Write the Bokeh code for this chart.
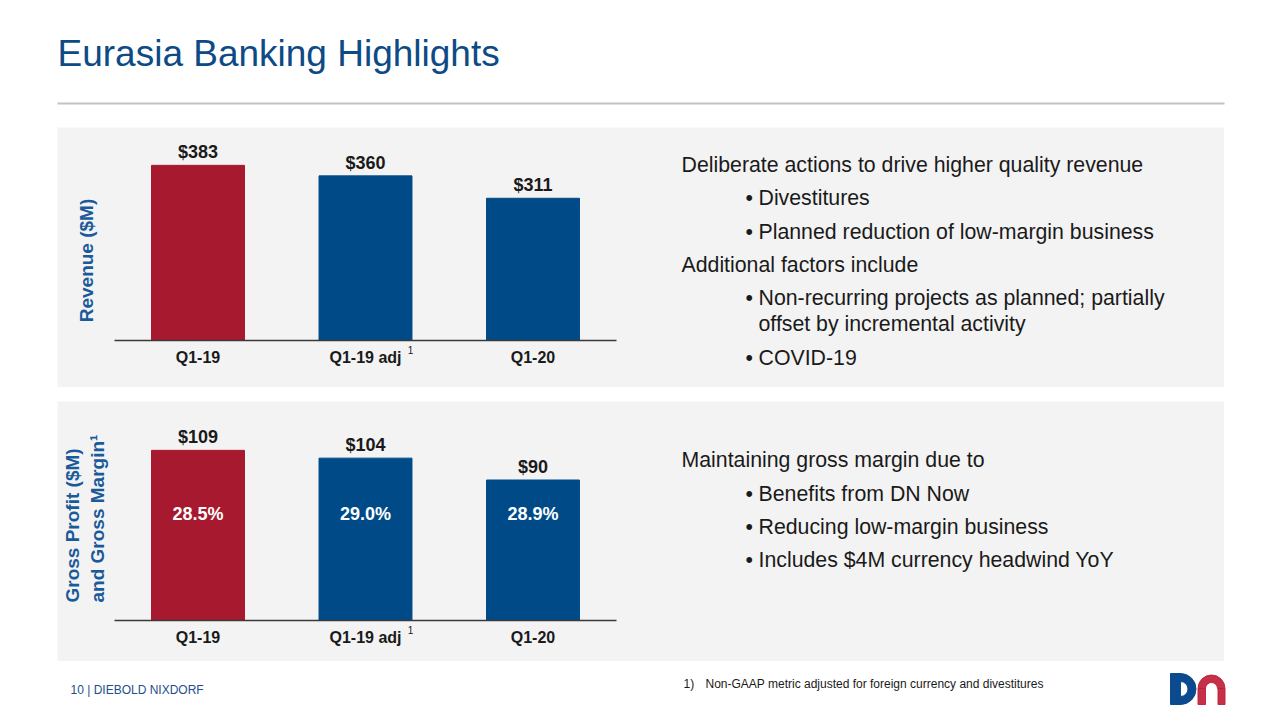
import math
from bokeh.plotting import figure
from bokeh.models import ColumnDataSource, Range1d, FixedTicker, Spacer
from bokeh.layouts import column, row
from bokeh.core.properties import value
from bokeh.embed import file_html
from bokeh.resources import INLINE

# ---------------- data ----------------
categories = ["Q1-19", "Q1-19 adj", "Q1-20"]
revenue = [383, 360, 311]
gross_profit = [109, 104, 90]
gross_margin = [28.5, 29.0, 28.9]

title_text = "Eurasia Banking Highlights"
rev_axis_label = ["Revenue ($M)"]
gp_axis_label = ["Gross Profit ($M)", "and Gross Margin\u00b9"]

panel1_heads = ["Deliberate actions to drive higher quality revenue", "Additional factors include"]
panel1_bullets = ["Divestitures", "Planned reduction of low-margin business",
                  "Non-recurring projects as planned; partially", "COVID-19"]
panel1_cont = ["offset by incremental activity"]
panel2_heads = ["Maintaining gross margin due to"]
panel2_bullets = ["Benefits from DN Now", "Reducing low-margin business",
                  "Includes $4M currency headwind YoY"]
footer_text = "10  |  DIEBOLD NIXDORF"
footnote_num = "1)"
footnote_text = "Non-GAAP metric adjusted for foreign currency and divestitures"

# ---------------- styles / layout ----------------
FONT = "Liberation Sans"
BLUE = "#004b87"
RED = "#a6192e"
TITLE_BLUE = "#0d4a86"
LABEL_BLUE = "#1a5a9a"
PANEL = "#f3f3f3"
TXT = "#1a1a1a"
BODY_SIZE = "21.3px"
bar_colors = [RED, BLUE, BLUE]

W = 1272
PW = 1167            # grey panel width
PH = 260             # grey panel height
CAT0 = 140.5         # px of first category centre inside the panel
STEP = 167.5         # px between categories
idx = list(range(len(categories)))


def blank_fig(w, h, bg, yrev=True):
    p = figure(width=w, height=h, x_range=Range1d(0, w),
               y_range=Range1d(h, 0) if yrev else Range1d(0, h),
               output_backend="svg", toolbar_location=None,
               x_axis_location=None, y_axis_location=None,
               min_border=0, background_fill_color=bg, border_fill_color=bg,
               outline_line_color=None)
    p.xgrid.visible = False
    p.ygrid.visible = False
    return p


def ptext(p, xs, ys, texts, size=BODY_SIZE, style="normal", color=TXT, align="left",
          baseline="middle", angle=0.0):
    p.text(x=xs, y=ys, text=texts, x_range_name="px", y_range_name="py",
           text_font=value(FONT), text_font_size=size, text_font_style=style,
           text_color=color, text_align=align, text_baseline=baseline, angle=angle)


def panel_fig(vals, base_px, ppu):
    x0 = -CAT0 / STEP
    p = figure(width=PW, height=PH, x_range=Range1d(x0, x0 + PW / STEP),
               y_range=Range1d(-(PH - base_px) / ppu, base_px / ppu),
               output_backend="svg", toolbar_location=None, y_axis_location=None,
               min_border=0, background_fill_color=PANEL,
               border_fill_color=PANEL, outline_line_color=None)
    p.xgrid.visible = False
    p.ygrid.visible = False
    # pixel coordinates inside the panel, for the free text
    p.extra_x_ranges = {"px": Range1d(0, PW)}
    p.extra_y_ranges = {"py": Range1d(PH, 0)}
    gap = 13.3 / ppu
    src = ColumnDataSource(dict(x=idx, v=vals, ly=[v + gap for v in vals],
                                lbl=["$%d" % v for v in vals], color=bar_colors))
    p.vbar(x="x", top="v", width=0.555, color="color", source=src)
    p.text(x="x", y="ly", text="lbl", source=src, text_align="center",
           text_baseline="middle", text_font=value(FONT),
           text_font_size="18px", text_font_style="bold", text_color=TXT)
    xa = p.xaxis[0]
    xa.fixed_location = 0
    xa.bounds = (-0.5, len(categories) - 0.5)
    xa.ticker = FixedTicker(ticks=idx)
    xa.major_label_overrides = {i: c for i, c in zip(idx, categories)}
    xa.major_tick_line_color = None
    xa.minor_tick_line_color = None
    xa.major_tick_out = 0
    xa.major_tick_in = 0
    xa.axis_line_color = "#3a3a3a"
    xa.axis_line_width = 1.5
    xa.major_label_standoff = 8
    xa.major_label_text_font = FONT
    xa.major_label_text_font_size = "16px"
    xa.major_label_text_font_style = "bold"
    xa.major_label_text_color = TXT
    # footnote marker next to "Q1-19 adj"
    ptext(p, [353], [base_px + 9], ["1"], size="10px", align="center")
    return p, src


# ---------------- header ----------------
hdr = blank_fig(W, 127, "white")
hdr.text(x=[57], y=[52.5], text=[title_text], text_font=value(FONT), text_font_size="37px",
         text_color=TITLE_BLUE, text_baseline="middle", text_align="left")
hdr.segment(x0=[57], y0=[103], x1=[1224], y1=[103], line_color="#c3c3c3", line_width=2)

# ---------------- revenue panel ----------------
p1, _ = panel_fig(revenue, 213, 0.4573)
ptext(p1, [29], [133], rev_axis_label, size="19px", style="bold", color=LABEL_BLUE,
      align="center", angle=math.pi / 2)
ptext(p1, [624] * 2, [37, 137], panel1_heads)
ptext(p1, [688] * 4, [70, 104, 170, 230], ["\u2022"] * 4)
ptext(p1, [701] * 4, [70, 104, 170, 230], panel1_bullets)
ptext(p1, [701], [196], panel1_cont)

# ---------------- gross profit panel ----------------
p2, src2 = panel_fig(gross_profit, 219, 1.561)
src2.data["pct"] = ["%.1f%%" % m for m in gross_margin]
src2.data["py"] = [112] * len(categories)
p2.text(x="x", y="py", y_range_name="py", text="pct", source=src2, text_align="center",
        text_baseline="middle", text_font=value(FONT), text_font_size="18px",
        text_font_style="bold", text_color="white")
ptext(p2, [15, 40], [201, 201], gp_axis_label, size="19px", style="bold", color=LABEL_BLUE,
      align="left", angle=math.pi / 2)
ptext(p2, [624], [58], panel2_heads)
ptext(p2, [688] * 3, [92, 125, 158], ["\u2022"] * 3)
ptext(p2, [701] * 3, [92, 125, 158], panel2_bullets)

# ---------------- footer ----------------
ftr = blank_fig(W, 51, "white", yrev=False)
ftr.text(x=[70], y=[23], text=[footer_text], text_font=value(FONT), text_font_size="12px",
         text_color="#1f4e8c", text_baseline="middle")
ftr.text(x=[683, 705], y=[29, 29], text=[footnote_num, footnote_text], text_font=value(FONT),
         text_font_size="12px", text_color=TXT, text_baseline="middle")
# logo
ftr.quad(left=[1170], right=[1180], bottom=[8], top=[39], color="#0b4a8f")
ftr.annular_wedge(x=[1180], y=[23.5], inner_radius=7.5, outer_radius=15.5,
                  start_angle=-1.5708, end_angle=1.5708, color="#0b4a8f")
ftr.annular_wedge(x=[1211], y=[24], inner_radius=6, outer_radius=13.5,
                  start_angle=0, end_angle=3.14159, color="#c0203a", alpha=0.92)
ftr.quad(left=[1197.5, 1217.5], right=[1205, 1224.5], bottom=[8, 8], top=[24, 24],
         color="#c0203a", alpha=0.92)

layout = column(
    hdr,
    row(Spacer(width=57, height=PH), p1, Spacer(width=W - 57 - PW, height=PH)),
    Spacer(width=W, height=14),
    row(Spacer(width=57, height=PH), p2, Spacer(width=W - 57 - PW, height=PH)),
    ftr,
)

open("out.html", "w").write(file_html(layout, INLINE))
